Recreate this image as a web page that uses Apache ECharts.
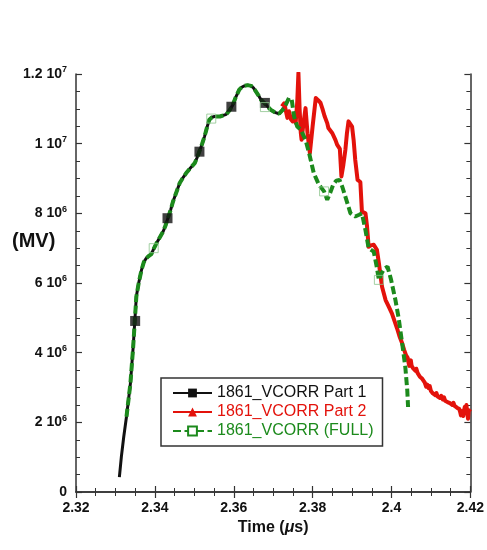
<!DOCTYPE html>
<html>
<head>
<meta charset="utf-8">
<script src="https://cdn.jsdelivr.net/npm/echarts@6/dist/echarts.min.js"></script>
<style>html,body{margin:0;padding:0;background:#fff}#c{width:487px;height:550px}</style>
</head>
<body>
<div id="c"></div>
<script>
// x: time (µs), y: voltage in units of 10^6 MV
const xTicks = [2.32, 2.34, 2.36, 2.38, 2.40, 2.42];
const yTicks = [0, 2, 4, 6, 8, 10, 12];
const seriesNames = ['1861_VCORR Part 1', '1861_VCORR Part 2', '1861_VCORR (FULL)'];

const part1Lead = [[2.3310,0.43],[2.3315,1.01],[2.3321,1.58]];
const sharedRise = [
 [2.3328,2.16],[2.3338,3.12],[2.3345,4.17],[2.3349,4.89],[2.3353,5.61],[2.3359,6.00],[2.3366,6.37],
 [2.3372,6.60],[2.3378,6.71],[2.3385,6.78],[2.3391,6.83],[2.3397,6.98],[2.3404,7.14],[2.3412,7.30],
 [2.3421,7.48],[2.3427,7.65],[2.3433,7.86],[2.3440,8.10],[2.3446,8.34],[2.3455,8.62],[2.3463,8.87],
 [2.3471,9.02],[2.3479,9.15],[2.3490,9.30],[2.3501,9.44],[2.3507,9.60],[2.3513,9.78],[2.3520,10.00],
 [2.3526,10.21],[2.3532,10.46],[2.3538,10.69],[2.3545,10.76],[2.3551,10.78],[2.3565,10.78],[2.3581,10.84],
 [2.3589,10.95],[2.3597,11.10],[2.3605,11.33],[2.3614,11.55],[2.3620,11.62],[2.3627,11.66],[2.3635,11.68],
 [2.3644,11.66],[2.3650,11.60],[2.3656,11.50],[2.3663,11.38],[2.3669,11.26],[2.3679,11.15],[2.3687,11.05],
 [2.3694,10.97],[2.3704,10.90],[2.3715,10.86],[2.3724,10.97],[2.3732,11.12],[2.3740,11.31]
];
const fullTail = [
 [2.3747,11.26],[2.3753,10.78],[2.3761,10.49],[2.3770,10.40],[2.3782,10.11],[2.3791,9.73],[2.3803,9.15],
 [2.3816,8.82],[2.3829,8.63],[2.3837,8.39],[2.3845,8.60],[2.3852,8.82],[2.3860,8.94],[2.3868,8.96],
 [2.3875,8.77],[2.3883,8.48],[2.3896,8.00],[2.3908,7.91],[2.3918,7.96],[2.3925,8.00],[2.3934,7.52],
 [2.3942,7.00],[2.3955,6.90],[2.3962,6.50],[2.3968,6.09],[2.3976,6.30],[2.3982,6.42],[2.3990,6.47],
 [2.3999,6.09],[2.4010,5.51],[2.4018,5.00],[2.4027,4.27],[2.4035,3.59],[2.4040,2.92],[2.4042,2.44]
];
const part2 = [
 [2.3722,11.07],[2.3728,11.16],[2.3736,10.74],[2.3740,10.93],[2.3745,10.70],[2.3749,10.64],[2.3753,10.83],
 [2.3757,10.60],[2.3761,11.20],[2.3764,12.03],[2.3767,11.00],[2.3770,10.31],[2.3772,10.11],[2.3777,10.60],
 [2.3782,11.02],[2.3787,10.30],[2.3793,9.73],[2.3800,10.50],[2.3808,11.31],[2.3814,11.25],[2.3820,11.17],
 [2.3825,11.00],[2.3830,10.80],[2.3837,10.59],[2.3840,10.45],[2.3845,10.40],[2.3850,10.30],[2.3854,10.35],
 [2.3858,10.10],[2.3862,9.97],[2.3866,10.00],[2.3869,9.85],[2.3873,9.06],[2.3878,9.40],[2.3883,9.82],
 [2.3887,10.30],[2.3891,10.64],[2.3896,10.60],[2.3900,10.49],[2.3904,10.10],[2.3908,9.54],[2.3914,8.96],
 [2.3921,8.90],[2.3925,8.05],[2.3930,8.03],[2.3934,8.00],[2.3938,7.62],[2.3942,7.04],[2.3948,7.08],
 [2.3955,7.10],[2.3959,7.14],[2.3963,6.95],[2.3968,6.57],[2.3976,5.89],[2.3985,5.51],[2.3993,5.32],
 [2.4001,5.13],[2.4008,4.90],[2.4014,4.70],[2.4020,4.48],[2.4027,4.27],[2.4032,4.08],[2.4037,3.92],
 [2.4041,3.85],[2.4043,3.72],[2.4045,3.62],[2.4047,3.70],[2.4049,3.78],[2.4051,3.62],[2.4053,3.66],
 [2.4055,3.55],[2.4058,3.60],[2.4061,3.48],[2.4063,3.54],[2.4066,3.42],[2.4069,3.46],[2.4072,3.31],
 [2.4075,3.36],[2.4078,3.25],[2.4081,3.29],[2.4084,3.15],[2.4086,3.20],[2.4088,3.02],[2.4091,3.08],
 [2.4094,2.98],[2.4097,3.04],[2.4100,2.90],[2.4103,2.95],[2.4105,2.83],[2.4108,2.88],[2.4111,2.78],
 [2.4114,2.84],[2.4117,2.74],[2.4120,2.79],[2.4123,2.70],[2.4126,2.76],[2.4130,2.66],[2.4133,2.72],
 [2.4136,2.62],[2.4139,2.67],[2.4142,2.58],[2.4145,2.63],[2.4148,2.55],[2.4151,2.60],[2.4154,2.50],
 [2.4157,2.56],[2.4160,2.47],[2.4163,2.52],[2.4166,2.42],[2.4169,2.46],[2.4172,2.38],[2.4174,2.30],
 [2.4176,2.20],[2.4178,2.32],[2.4180,2.26],[2.4182,2.18],[2.4184,2.35],[2.4186,2.45],[2.4188,2.30],
 [2.4190,2.50],[2.4192,2.28],[2.4194,2.10],[2.4196,2.35],[2.4198,2.40],[2.4200,2.30]
];
const part1Markers = [[2.3350,4.91],[2.3432,7.86],[2.3513,9.77],[2.3594,11.06],[2.3679,11.17]];
const fullMarkers = [[2.3397,7.00],[2.3543,10.72],[2.3679,11.05],[2.3829,8.63],[2.3968,6.09]];

const part1 = part1Lead.concat(sharedRise);
const full = sharedRise.concat(fullTail);

const FONT = '"Liberation Sans", Arial, Helvetica, sans-serif';
const BLACK = '#111111', RED = '#e3120b', GREEN = '#1c8a1c';
const AX = '#333333';

function yLabel(v) {
  if (v === 0) return '{b|0}';
  if (v >= 10) return '{b|' + (v / 10) + ' 10}{s|7}';
  return '{b|' + v + ' 10}{s|6}';
}

const chart = echarts.init(document.getElementById('c'), null, {renderer: 'canvas'});
const axisCommon = {
  axisLine: {show: true, lineStyle: {color: AX, width: 1.5}},
  axisTick: {show: true, inside: true, length: 6, lineStyle: {color: AX, width: 1.2}},
  minorTick: {show: true, splitNumber: 4, length: 4, lineStyle: {color: AX, width: 1}},
  splitLine: {show: false}
};
chart.setOption({
  animation: false,
  backgroundColor: '#fff',
  grid: {left: 76, right: 15, top: 74, bottom: 58, containLabel: false},
  xAxis: [
    Object.assign({
      type: 'value', min: xTicks[0], max: xTicks[xTicks.length - 1], interval: 0.02, position: 'bottom',
      name: 'Time ({i|μ}s)', nameLocation: 'middle', nameGap: 28,
      nameTextStyle: {fontFamily: FONT, fontSize: 16, fontWeight: 'bold', color: BLACK,
        rich: {i: {fontFamily: FONT, fontSize: 16, fontWeight: 'bold', fontStyle: 'italic', color: BLACK}}},
      axisLabel: {margin: 9, fontFamily: FONT, fontSize: 14, fontWeight: 'bold', color: BLACK,
        formatter: v => String(parseFloat(v.toFixed(3)))}
    }, axisCommon),
    Object.assign({
      type: 'value', min: xTicks[0], max: xTicks[xTicks.length - 1], interval: 0.02, position: 'top',
      axisLabel: {show: false}
    }, axisCommon)
  ],
  yAxis: [
    Object.assign({
      type: 'value', min: yTicks[0], max: yTicks[yTicks.length - 1], interval: 2, position: 'left',
      axisLabel: {margin: 9, formatter: yLabel,
        rich: {
          b: {fontFamily: FONT, fontSize: 14, fontWeight: 'bold', color: BLACK},
          s: {fontFamily: FONT, fontSize: 9, fontWeight: 'bold', color: BLACK, padding: [0, 0, 8, 0]}
        }}
    }, axisCommon),
    Object.assign({
      type: 'value', min: yTicks[0], max: yTicks[yTicks.length - 1], interval: 2, position: 'right',
      axisLabel: {show: false}
    }, axisCommon)
  ],
  graphic: [{
    type: 'text', left: 12, top: 231,
    style: {text: '(MV)', font: 'bold 20px ' + FONT, fill: BLACK}
  }],
  legend: {
    orient: 'vertical', left: 161, top: 378,
    padding: [7, 9, 7, 11], itemGap: 3, itemWidth: 39, itemHeight: 11,
    borderColor: '#333', borderWidth: 1.5, backgroundColor: '#fff',
    textStyle: {fontFamily: FONT, fontSize: 16, lineHeight: 16},
    data: [
      {name: seriesNames[0], textStyle: {color: BLACK}},
      {name: seriesNames[1], textStyle: {color: RED}},
      {name: seriesNames[2], textStyle: {color: GREEN}}
    ]
  },
  series: [
    {name: seriesNames[0], type: 'line', data: part1, showSymbol: false, symbol: 'rect', symbolSize: 9,
     itemStyle: {color: BLACK}, lineStyle: {color: BLACK, width: 3}, z: 2},
    {name: seriesNames[1], type: 'line', data: part2, showSymbol: false, symbol: 'triangle', symbolSize: 9,
     itemStyle: {color: RED}, lineStyle: {color: RED, width: 4, join: 'round'}, z: 3},
    {name: seriesNames[2], type: 'line', data: full, showSymbol: false, symbol: 'emptyRect', symbolSize: 9,
     itemStyle: {color: GREEN}, lineStyle: {color: GREEN, width: 4, type: [8, 3.5]}, z: 4},
    {name: 'p1m', type: 'scatter', data: part1Markers, symbol: 'rect', symbolSize: 10,
     itemStyle: {color: BLACK}, z: 5},
    {name: 'fm', type: 'scatter', data: fullMarkers, symbol: 'rect', symbolSize: 9,
     itemStyle: {color: 'rgba(0,0,0,0)', borderColor: '#8cc48c', borderWidth: 1}, z: 6}
  ]
});
</script>
</body>
</html>
